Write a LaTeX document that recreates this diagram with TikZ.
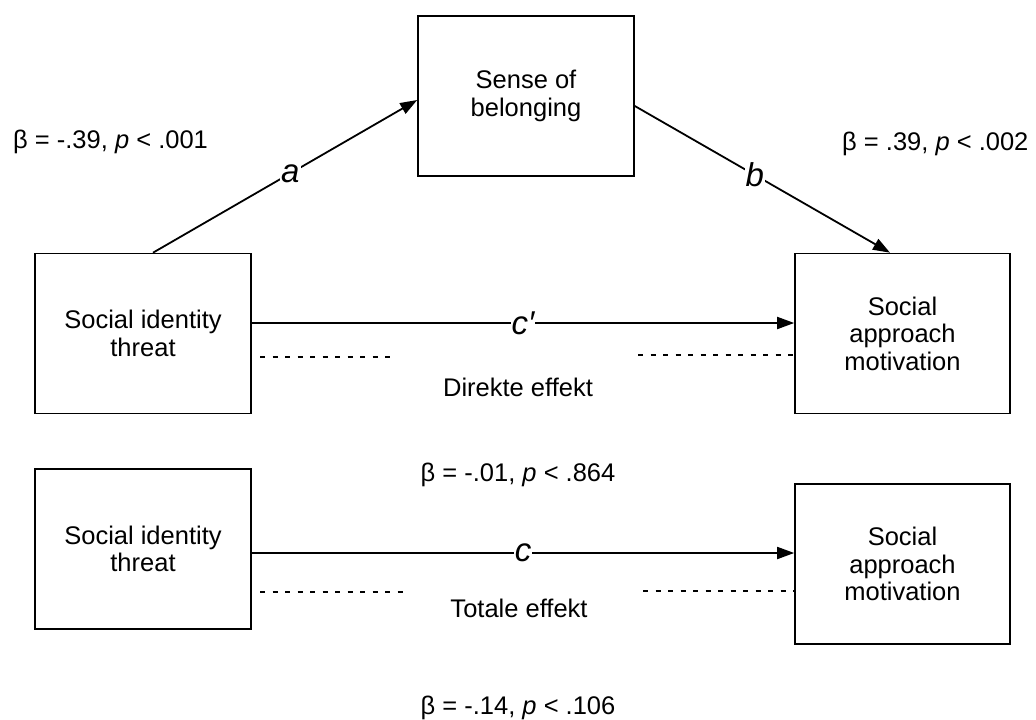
\documentclass[tikz,border=0pt]{standalone}
\usepackage{fontspec}
\setmainfont{Liberation Sans}
\usetikzlibrary{arrows.meta,calc}
\begin{document}
\begin{tikzpicture}[x=1pt,y=-1pt,
  box/.style={draw, line width=1.6pt, minimum width=216pt, minimum height=160pt, inner sep=0pt, align=center, font=\fontsize{25.5}{27.5}\selectfont},
  conn/.style={line width=1.8pt, -{Triangle[length=17pt,width=12pt]}},
  lab/.style={fill=white, inner sep=1pt, font=\fontsize{33}{33}\selectfont\itshape},
  txt/.style={inner sep=0pt, font=\fontsize{25.5}{27.5}\selectfont},
  dots/.style={line width=2pt, dash pattern=on 5pt off 7.5pt}]
\useasboundingbox (0,0) rectangle (1036,720);
% boxes
\node[box] (sob) at (526,96) {Sense of\\belonging};
\node[box] (sit1) at (143,333.5) {Social identity\\threat};
\node[box, minimum width=215pt] (sam1) at (902.5,333.5) {Social\\approach\\motivation};
\node[box] (sit2) at (143,549) {Social identity\\threat};
\node[box, minimum width=215pt] (sam2) at (902.5,564) {Social\\approach\\motivation};
% connectors
\draw[conn] ([xshift=10pt]sit1.north) -- node[lab, pos=.52] (la) {a} ([yshift=-4pt]sob.west);
\draw[conn] ([yshift=-10pt]sob.east) -- node[lab, pos=.47] (lb) {b} ([xshift=-12.5pt]sam1.north);
\draw[conn] ([yshift=10.5pt]sit1.east) -- node[lab, pos=.5] (lcp) {c\symbol{"2032}} ([yshift=10.5pt]sit1.east -| sam1.west);
\draw[conn] ([yshift=-4pt]sit2.east) -- node[lab, pos=.5] (lc) {c} ([yshift=-4pt]sit2.east -| sam2.west);
% dotted guides
\draw[dots] (260,357) -- (396,357);
\draw[dots] (638,355) -- (795,355);
\draw[dots] (260,592) -- (403,592);
\draw[dots] (643,591) -- (795,591);
% texts
\node[txt, anchor=base west] (ba) at (13,148) {β = -.39, \textit{p} < .001};
\node[txt, anchor=base west] (bb) at (842,150) {β = .39, \textit{p} < .002};
\node[txt, anchor=base] (dir) at (518,396) {Direkte effekt};
\node[txt, anchor=base] (bcp) at (518,481) {β = -.01, \textit{p} < .864};
\node[txt, anchor=base] (tot) at (519,617) {Totale effekt};
\node[txt, anchor=base] (bc) at (518,714) {β = -.14, \textit{p} < .106};
\end{tikzpicture}
\end{document}
